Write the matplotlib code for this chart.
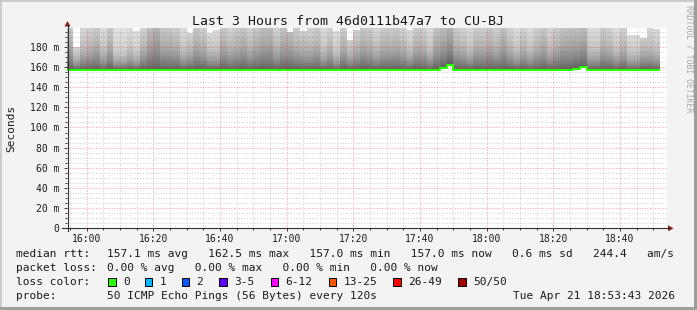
import numpy as np
import pandas as pd
import matplotlib
matplotlib.use("Agg")
import matplotlib.pyplot as plt
import matplotlib.dates as mdates
from matplotlib.ticker import MultipleLocator, FixedLocator
from matplotlib.patches import Rectangle, Polygon
from matplotlib.lines import Line2D

# ---------------- data ----------------
title = "Last 3 Hours from 46d0111b47a7 to CU-BJ"
y_label = "Seconds"
y_tick_values = [0, 20, 40, 60, 80, 100, 120, 140, 160, 180]
y_tick_labels = ["0", "20 m", "40 m", "60 m", "80 m", "100 m", "120 m", "140 m", "160 m", "180 m"]
x_tick_labels = ["16:00", "16:20", "16:40", "17:00", "17:20", "17:40", "18:00", "18:20", "18:40"]
day = "2026-04-21"
view_start = "2026-04-21 15:54:06"
view_hours = 3
first_sample = "2026-04-21 15:54"
sample_step = "2min"

# median rtt per 2-minute sample (ms)
median_ms = [157.0, 157.0, 157.0, 157.0, 157.0, 157.0, 157.0, 157.0, 157.0, 157.0,
             157.0, 157.0, 157.0, 157.0, 157.0, 157.0, 157.0, 157.0, 157.0, 157.0,
             157.0, 157.0, 157.0, 157.0, 157.0, 157.0, 157.0, 157.0, 157.0, 157.0,
             157.0, 157.0, 157.0, 157.0, 157.0, 157.0, 157.0, 157.0, 157.0, 157.0,
             157.0, 157.0, 157.0, 157.0, 157.0, 157.0, 157.0, 157.0, 157.0, 157.0,
             157.0, 157.0, 157.0, 157.0, 157.0, 157.0, 159.0, 162.5, 157.0, 157.0,
             157.0, 157.0, 157.0, 157.0, 157.0, 157.0, 157.0, 157.0, 157.0, 157.0,
             157.0, 157.0, 157.0, 157.0, 157.0, 157.0, 158.5, 160.0, 157.0, 157.0,
             157.0, 157.0, 157.0, 157.0, 157.0, 157.0, 157.0, 157.0, 157.0]

# highest ping of the smoke per sample (ms); 215 = beyond the top of the graph
smoke_top_ms = [215, 180, 215, 215, 215, 215, 215, 215, 215, 215,
                196, 215, 215, 215, 215, 215, 215, 215, 194, 215,
                215, 194, 197, 215, 215, 215, 215, 215, 215, 215,
                215, 215, 215, 195, 215, 196, 215, 215, 215, 215,
                196, 215, 187, 197, 215, 215, 215, 215, 215, 215,
                215, 197, 215, 215, 215, 215, 215, 215, 215, 215,
                215, 215, 215, 215, 215, 215, 215, 215, 215, 215,
                215, 215, 215, 215, 215, 215, 215, 215, 215, 215,
                215, 215, 215, 215, 192, 192, 189, 215, 198]

# level where the smoke reaches mid grey (ms): spread of the pings
smoke_mid_ms = [175, 165, 170, 172, 175, 168, 175, 165, 165, 168,
                165, 172, 180, 185, 176, 175, 174, 168, 170, 176,
                173, 168, 168, 176, 172, 174, 177, 172, 176, 180,
                180, 172, 178, 178, 174, 172, 172, 174, 168, 172,
                166, 174, 168, 172, 176, 174, 170, 174, 174, 175,
                172, 168, 174, 173, 168, 177, 182, 188, 174, 172,
                168, 174, 174, 176, 173, 178, 172, 168, 172, 168,
                172, 176, 170, 174, 178, 178, 180, 182, 168, 168,
                174, 172, 168, 172, 166, 166, 170, 170, 168]

rtt_avg, rtt_max, rtt_min, rtt_now, rtt_sd, rtt_ams = 157.1, 162.5, 157.0, 157.0, 0.6, 244.4
loss_avg, loss_max, loss_min, loss_now = 0.00, 0.00, 0.00, 0.00
loss_labels = ["0", "1", "2", "3-5", "6-12", "13-25", "26-49", "50/50"]
loss_colors = ["#26ff00", "#00b8ff", "#0059ff", "#5e00ff", "#ff00ff", "#ff5500", "#ff0000", "#a10000"]
probe_text = "50 ICMP Echo Pings (56 Bytes) every 120s"
stamp_text = "Tue Apr 21 18:53:43 2026"
credit = "RRDTOOL / TOBI OETIKER"

# ---------------- layout ----------------
W, H = 697, 310
MONO = "DejaVu Sans Mono"
plt.rcParams["font.family"] = [MONO, "DejaVu Sans"]


def fx(x):
    return x / W


def fy(y):
    return 1 - y / H


fig = plt.figure(figsize=(W / 100, H / 100), dpi=100, facecolor="#f3f3f3")

# frame shading
fig.add_artist(Rectangle((0, fy(2)), 1, 2 / H, transform=fig.transFigure, color="#cbcbcb", lw=0))
fig.add_artist(Rectangle((0, 0), 2 / W, 1, transform=fig.transFigure, color="#cbcbcb", lw=0))
fig.add_artist(Rectangle((0, 0), 1, 3 / H, transform=fig.transFigure, color="#9e9e9e", lw=0))
fig.add_artist(Rectangle((fx(694), 0), 3 / W, 1, transform=fig.transFigure, color="#9e9e9e", lw=0))

ax = fig.add_axes([fx(67), fy(228), 600 / W, 200 / H])
ax.set_facecolor("white")
for s in ax.spines.values():
    s.set_visible(False)

t0 = pd.Timestamp(view_start)
t1 = t0 + pd.Timedelta(hours=view_hours)
ax.set_xlim(mdates.date2num(t0), mdates.date2num(t1))
ax.set_ylim(0, 199)

# sample edges
times = pd.date_range(first_sample, periods=len(median_ms) + 1, freq=sample_step)
xe = mdates.date2num(times.to_pydatetime())

# smoke as grey mesh
med = np.array(median_ms, dtype=float)
top = np.array(smoke_top_ms, dtype=float)
mid = np.array(smoke_mid_ms, dtype=float)
ye = np.arange(150.0, 215.5, 0.5)
yc = (ye[:-1] + ye[1:]) / 2
g_bot, g_top = 0.36, 0.89
rel = (yc[:, None] - med[None, :]) / (mid - med)[None, :]
grey = g_top - (g_top - g_bot) * np.exp(-np.log(2) * rel)
mask = (yc[:, None] < med[None, :]) | (yc[:, None] > top[None, :])
C = np.ma.masked_where(mask, grey)
ax.pcolormesh(xe, ye, C, cmap="gray", vmin=0, vmax=1, shading="flat", zorder=1,
              antialiased=False, edgecolors="none")

# median line
ax.step(xe, list(median_ms) + [median_ms[-1]], where="post", color="#26ff00", lw=1.5, zorder=3,
        solid_capstyle="butt")

# ticks
x_major = [mdates.date2num(pd.Timestamp(f"{day} {t}")) for t in x_tick_labels]
ax.xaxis.set_major_locator(FixedLocator(x_major))
ax.set_xticklabels(x_tick_labels)
ax.xaxis.set_minor_locator(mdates.MinuteLocator(byminute=range(0, 60, 5)))
ax.set_yticks(y_tick_values)
ax.set_yticklabels(y_tick_labels)
ax.yaxis.set_minor_locator(MultipleLocator(5))
ax.tick_params(which="major", length=2.5, width=0.72, color="#404040", direction="out",
               labelsize=7, labelcolor="#1a1a1a")
ax.tick_params(which="minor", length=1.5, width=0.72, color="#404040", direction="out")
ax.tick_params(axis="y", which="major", pad=3.0)
ax.tick_params(axis="x", which="major", pad=2.0)
for lab in ax.get_xticklabels() + ax.get_yticklabels():
    lab.set_fontfamily(MONO)

# dotted grid drawn from the tick locations, on top of the smoke
xmin_t = [v for v in ax.xaxis.get_minorticklocs() if v not in x_major]
ymin_t = [v for v in ax.yaxis.get_minorticklocs() if v not in y_tick_values]
minor_kw = dict(colors=[(0.45, 0.45, 0.45, 0.32)], linestyles=[(0, (1, 1.6))], linewidths=0.72, zorder=2.5)
major_kw = dict(colors=[(1.0, 0.1, 0.1, 0.42)], linestyles=[(0, (1, 1.6))], linewidths=0.72, zorder=2.6)
ax.vlines(xmin_t, 0, 199, **minor_kw)
ax.hlines(ymin_t, ax.get_xlim()[0], ax.get_xlim()[1], **minor_kw)
ax.vlines(x_major, 0, 199, **major_kw)
ax.hlines(y_tick_values[1:], ax.get_xlim()[0], ax.get_xlim()[1], **major_kw)

# axis lines with arrows
fig.add_artist(Line2D([fx(67.5), fx(67.5)], [fy(231), fy(25)], transform=fig.transFigure,
                      color="#303030", lw=0.8))
fig.add_artist(Line2D([fx(62), fx(669)], [fy(228.3), fy(228.3)], transform=fig.transFigure,
                      color="#303030", lw=0.8))
fig.add_artist(Polygon([(fx(64.5), fy(26.5)), (fx(70.5), fy(26.5)), (fx(67.5), fy(21))], closed=True,
                       transform=fig.transFigure, color="#8b1a1a", lw=0))
fig.add_artist(Polygon([(fx(668), fy(225.3)), (fx(668), fy(231.3)), (fx(673.5), fy(228.3))], closed=True,
                       transform=fig.transFigure, color="#8b1a1a", lw=0))

# texts
fig.text(fx(348.5), fy(25), title, ha="center", va="baseline", fontsize=9.5, color="#1a1a1a")
fig.text(fx(11), fy(128), y_label, rotation=90, ha="center", va="center", fontsize=8, color="#1a1a1a")
fig.text(fx(689), fy(59), credit, rotation=270, ha="center", va="center", fontsize=5.9, color="#a8a8a8")

LF = 8
base = [257.3, 271.3, 285.3, 299.3]
fig.text(fx(16), fy(base[0]), "median rtt:", fontsize=LF, va="baseline", color="#1a1a1a")
line1 = (f"{rtt_avg:.1f} ms avg   {rtt_max:.1f} ms max   {rtt_min:.1f} ms min   "
         f"{rtt_now:.1f} ms now   {rtt_sd:.1f} ms sd   {rtt_ams:.1f}   am/s")
fig.text(fx(107.3), fy(base[0]), line1, fontsize=LF, va="baseline", color="#1a1a1a")
fig.text(fx(16), fy(base[1]), "packet loss:", fontsize=LF, va="baseline", color="#1a1a1a")
line2 = f"{loss_avg:.2f} % avg   {loss_max:.2f} % max   {loss_min:.2f} % min   {loss_now:.2f} % now"
fig.text(fx(107.3), fy(base[1]), line2, fontsize=LF, va="baseline", color="#1a1a1a")
fig.text(fx(16), fy(base[2]), "loss color:", fontsize=LF, va="baseline", color="#1a1a1a")
box_x = [108.3, 145.0, 181.7, 219.3, 270.7, 329.0, 393.3, 458.3]
for bx, lab, col in zip(box_x, loss_labels, loss_colors):
    fig.add_artist(Rectangle((fx(bx), fy(285.5)), 7.3 / W, 7.3 / H, transform=fig.transFigure,
                             facecolor=col, edgecolor="black", lw=0.72))
    fig.text(fx(bx + 14.8), fy(base[2]), lab, fontsize=LF, va="baseline", color="#1a1a1a")
fig.text(fx(16), fy(base[3]), "probe:", fontsize=LF, va="baseline", color="#1a1a1a")
fig.text(fx(107.3), fy(base[3]), probe_text, fontsize=LF, va="baseline", color="#1a1a1a")
fig.text(fx(513.3), fy(base[3]), stamp_text, fontsize=LF, va="baseline", color="#1a1a1a")

fig.savefig("out.png", dpi=100, facecolor=fig.get_facecolor())
